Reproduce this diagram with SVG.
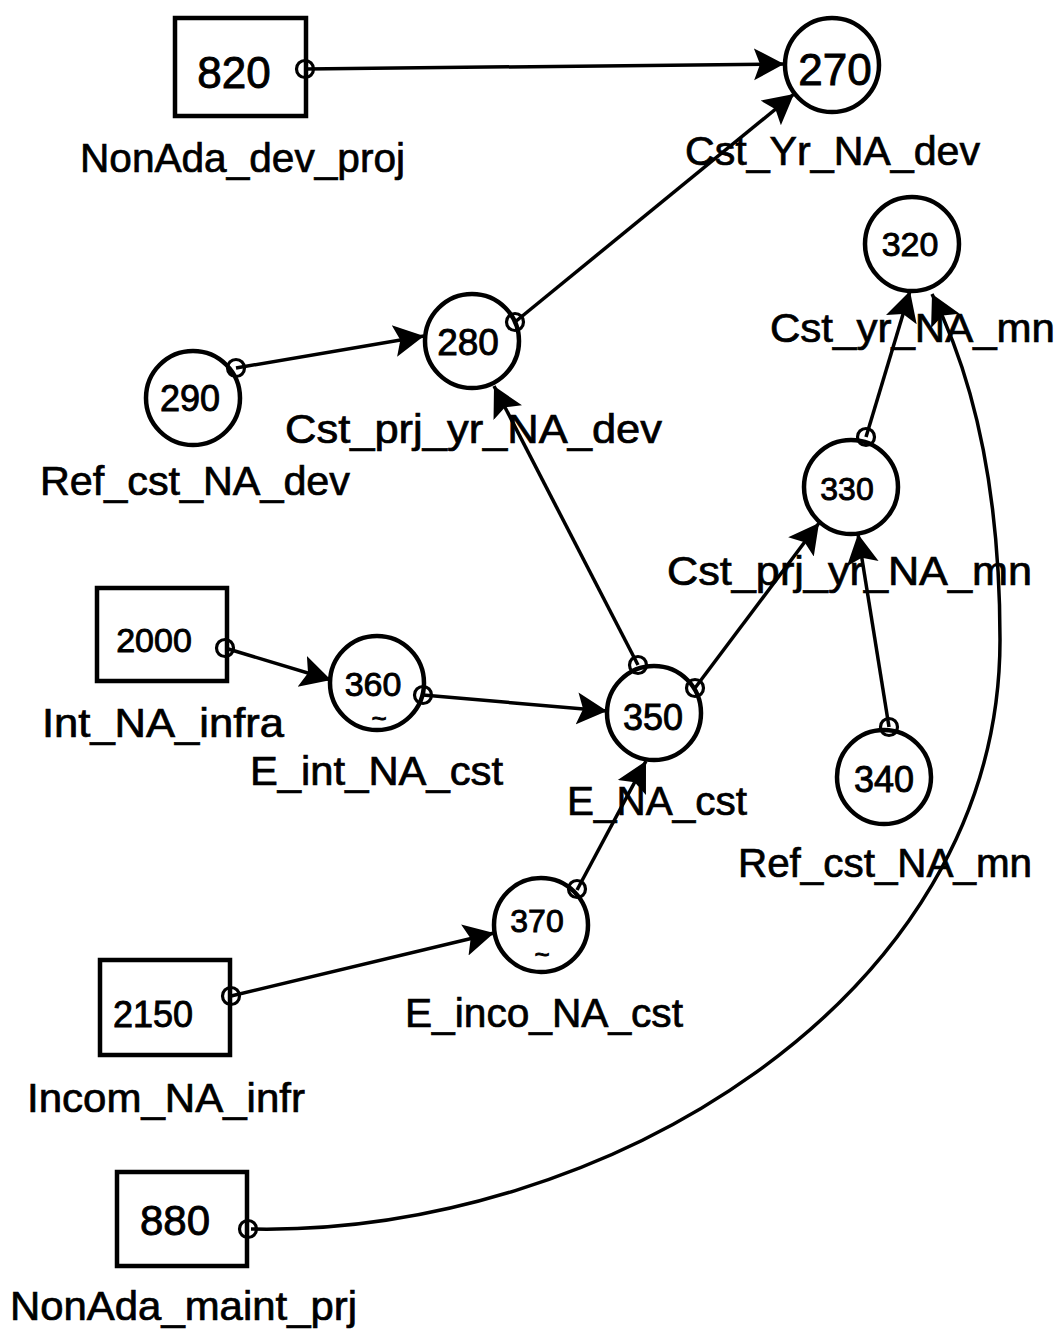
<svg xmlns="http://www.w3.org/2000/svg" width="1060" height="1331" viewBox="0 0 1060 1331">
  <style>
    .node { fill: #fff; stroke: #000; stroke-width: 4.5; }
    .port { fill: none; stroke: #000; stroke-width: 3.2; }
    .num { font-family: "Liberation Sans", Arial, sans-serif; text-anchor: middle; fill: #000; stroke: #000; stroke-width: 0.9; }
    .lbl { font-family: "Liberation Sans", Arial, sans-serif; font-size: 40px; fill: #000; stroke: #000; stroke-width: 0.7; }
    .link { fill: none; stroke: #000; stroke-width: 3.5; marker-end: url(#head); }
  </style>
  <defs>
    <marker id="head" markerUnits="userSpaceOnUse" markerWidth="36" markerHeight="36" refX="30" refY="18" orient="auto" viewBox="0 0 36 36">
      <path d="M0,2 L30,18 L0,34 L6,18 z" fill="#000"/>
    </marker>
  </defs>
  <rect width="1060" height="1331" fill="#fff"/>

  <!-- connectors -->
  <g id="connectors">
    <path class="link" d="M305,69 L784,64"/>
    <path class="link" d="M515,322 L794,94"/>
    <path class="link" d="M236,368 L424,336"/>
    <path class="link" d="M638,665 L494,386"/>
    <path class="link" d="M866,437 L910,291"/>
    <path class="link" d="M251,1229 C600,1236 1000,1000 1000,640 C1000,480 970,370 932,294"/>
    <path class="link" d="M225,648 L331,680"/>
    <path class="link" d="M423,695 L607,711"/>
    <path class="link" d="M695,688 L819,523"/>
    <path class="link" d="M889,727 L858,534"/>
    <path class="link" d="M577,890 L646,761"/>
    <path class="link" d="M231,996 L494,933"/>
  </g>

  <!-- stocks -->
  <g id="n820">
    <rect class="node" x="175" y="18" width="131" height="98"/>
    <text class="num" x="234" y="88" font-size="44">820</text>
    <circle class="port" cx="305" cy="69" r="8.5"/>
    <text class="lbl" x="80" y="172" textLength="325" lengthAdjust="spacingAndGlyphs">NonAda_dev_proj</text>
  </g>
  <g id="n2000">
    <rect class="node" x="97" y="588" width="130" height="93"/>
    <text class="num" x="154" y="652" font-size="34">2000</text>
    <circle class="port" cx="225" cy="648" r="8.5"/>
    <text class="lbl" x="42" y="737" textLength="242" lengthAdjust="spacingAndGlyphs">Int_NA_infra</text>
  </g>
  <g id="n2150">
    <rect class="node" x="100" y="960" width="130" height="95"/>
    <text class="num" x="153" y="1027" font-size="36">2150</text>
    <circle class="port" cx="231" cy="996" r="8.5"/>
    <text class="lbl" x="27" y="1112" textLength="278" lengthAdjust="spacingAndGlyphs">Incom_NA_infr</text>
  </g>
  <g id="n880">
    <rect class="node" x="117" y="1172" width="130" height="94"/>
    <text class="num" x="175" y="1235" font-size="42">880</text>
    <circle class="port" cx="248" cy="1229" r="8.5"/>
    <text class="lbl" x="10" y="1320" textLength="347" lengthAdjust="spacingAndGlyphs">NonAda_maint_prj</text>
  </g>

  <!-- auxiliaries -->
  <g id="n270">
    <circle class="node" cx="832" cy="65" r="47"/>
    <text class="num" x="835" y="85" font-size="44">270</text>
    <text class="lbl" x="685" y="165" textLength="295" lengthAdjust="spacingAndGlyphs">Cst_Yr_NA_dev</text>
  </g>
  <g id="n320">
    <circle class="node" cx="912" cy="244" r="47"/>
    <text class="num" x="910" y="256" font-size="34">320</text>
    <text class="lbl" x="770" y="342" textLength="285" lengthAdjust="spacingAndGlyphs">Cst_yr_NA_mn</text>
  </g>
  <g id="n280">
    <circle class="node" cx="472" cy="341" r="47"/>
    <text class="num" x="468" y="355" font-size="37">280</text>
    <circle class="port" cx="515" cy="322" r="8.5"/>
    <text class="lbl" x="285" y="443" textLength="377" lengthAdjust="spacingAndGlyphs">Cst_prj_yr_NA_dev</text>
  </g>
  <g id="n290">
    <circle class="node" cx="193" cy="398" r="47"/>
    <text class="num" x="190" y="411" font-size="36">290</text>
    <circle class="port" cx="236" cy="368" r="8.5"/>
    <text class="lbl" x="40" y="495" textLength="310" lengthAdjust="spacingAndGlyphs">Ref_cst_NA_dev</text>
  </g>
  <g id="n330">
    <circle class="node" cx="851" cy="487" r="47"/>
    <text class="num" x="847" y="500" font-size="32">330</text>
    <circle class="port" cx="866" cy="437" r="8.5"/>
    <text class="lbl" x="667" y="585" textLength="365" lengthAdjust="spacingAndGlyphs">Cst_prj_yr_NA_mn</text>
  </g>
  <g id="n360">
    <circle class="node" cx="377" cy="683" r="47"/>
    <text class="num" x="373" y="696" font-size="34">360</text>
    <text class="num" x="379" y="727" font-size="26">~</text>
    <circle class="port" cx="423" cy="695" r="8.5"/>
    <text class="lbl" x="250" y="785" textLength="253" lengthAdjust="spacingAndGlyphs">E_int_NA_cst</text>
  </g>
  <g id="n350">
    <circle class="node" cx="654" cy="713" r="47"/>
    <text class="num" x="653" y="730" font-size="36">350</text>
    <circle class="port" cx="638" cy="665" r="8.5"/>
    <circle class="port" cx="695" cy="688" r="8.5"/>
    <text class="lbl" x="567" y="815" textLength="180" lengthAdjust="spacingAndGlyphs">E_NA_cst</text>
  </g>
  <g id="n340">
    <circle class="node" cx="884" cy="777" r="47"/>
    <text class="num" x="884" y="792" font-size="36">340</text>
    <circle class="port" cx="889" cy="727" r="8.5"/>
    <text class="lbl" x="738" y="877" textLength="294" lengthAdjust="spacingAndGlyphs">Ref_cst_NA_mn</text>
  </g>
  <g id="n370">
    <circle class="node" cx="541" cy="925" r="47"/>
    <text class="num" x="537" y="932" font-size="32">370</text>
    <text class="num" x="542" y="963" font-size="26">~</text>
    <circle class="port" cx="577" cy="889" r="8.5"/>
    <text class="lbl" x="405" y="1027" textLength="278" lengthAdjust="spacingAndGlyphs">E_inco_NA_cst</text>
  </g>
</svg>
